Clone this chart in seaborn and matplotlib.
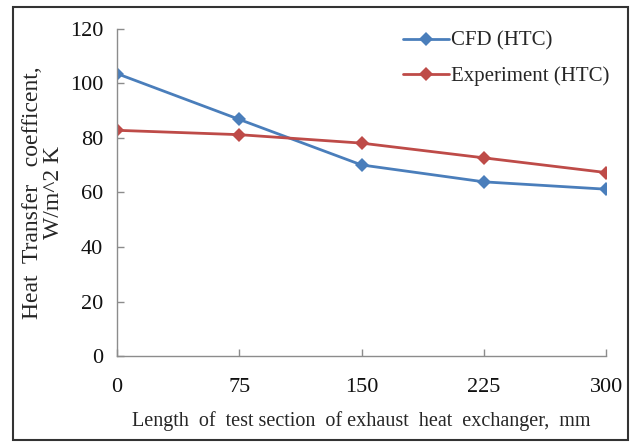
import matplotlib
matplotlib.use("Agg")
import matplotlib.pyplot as plt
import seaborn as sns
import pandas as pd
from matplotlib.patches import Rectangle

lengths = ["0", "75", "150", "225", "300"]
cfd_htc = [103.6, 86.8, 70.1, 63.9, 61.2]
exp_htc = [82.8, 81.2, 78.1, 72.7, 67.3]
series_names = ["CFD (HTC)", "Experiment (HTC)"]

sns.set_style("white")
plt.rcParams['font.family'] = ['Liberation Serif', 'DejaVu Serif']

df = pd.DataFrame({
    "x": list(range(len(lengths))) * 2,
    "y": cfd_htc + exp_htc,
    "series": [series_names[0]] * len(lengths) + [series_names[1]] * len(lengths),
})

fig = plt.figure(figsize=(6.32, 4.44), dpi=100)
ax = fig.add_axes([0.185, 0.198, 0.774, 0.737])
sns.lineplot(data=df, x="x", y="y", hue="series", style="series",
             palette=["#4A7EBB", "#BE4B48"], markers=["D", "D"], dashes=False,
             markersize=7, linewidth=2, markeredgewidth=0, ax=ax)

ax.set_xlim(0, 4)
ax.set_ylim(0, 120)
ax.set_xticks(range(len(lengths)))
ax.set_xticklabels(lengths)
ax.set_yticks(range(0, 121, 20))
for s in ["top", "right"]:
    ax.spines[s].set_visible(False)
for s in ["left", "bottom"]:
    ax.spines[s].set_color("#8c8c8c")
    ax.spines[s].set_linewidth(1)
ax.tick_params(axis="both", labelsize=16, colors="#8c8c8c", length=5, width=1,
               direction="in", left=True, bottom=True)
ax.tick_params(axis="x", pad=16)
ax.tick_params(axis="y", pad=10)
for t in ax.get_xticklabels() + ax.get_yticklabels():
    t.set_color("#111111")
ax.set_xlabel("Length  of  test section  of exhaust  heat  exchanger,  mm", fontsize=14.5, labelpad=10)
ax.set_ylabel("Heat  Transfer   coefficent,\nW/m^2 K", fontsize=17, labelpad=4,
              linespacing=1.0)

leg = ax.legend(loc="upper right", bbox_to_anchor=(1.045, 1.05), frameon=False,
                fontsize=15, handlelength=2.2, handletextpad=0.1, labelspacing=0.75)

fig.patches.append(Rectangle((0.021, 0.01), 0.973, 0.975, transform=fig.transFigure,
                             fill=False, edgecolor="#333333", linewidth=1.5))

fig.savefig("out.png", dpi=100)
